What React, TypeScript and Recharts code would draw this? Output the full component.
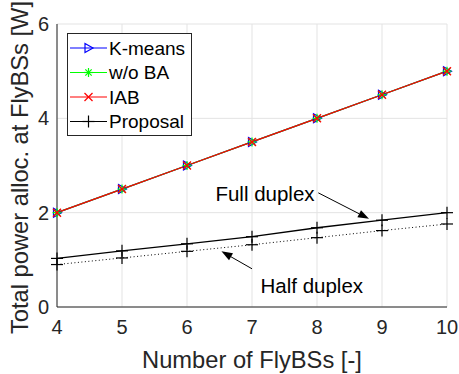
import {
  ComposedChart,
  Line,
  XAxis,
  YAxis,
  CartesianGrid,
  Legend,
  Label,
  ReferenceLine,
  ReferenceDot,
} from 'recharts';

const flyBSs = [4, 5, 6, 7, 8, 9, 10];
const kMeans = [2, 2.5, 3, 3.5, 4, 4.5, 5];
const withoutBA = [2, 2.5, 3, 3.5, 4, 4.5, 5];
const iab = [2, 2.5, 3, 3.5, 4, 4.5, 5];
const fullDuplex = [1.03, 1.19, 1.34, 1.49, 1.68, 1.84, 2.0];
const halfDuplex = [0.9, 1.04, 1.18, 1.32, 1.47, 1.62, 1.76];
const yTicks = [0, 2, 4, 6];

const legendNames = ['K-means', 'w/o BA', 'IAB', 'Proposal'];
const legendColors = ['#0000ff', '#00ff00', '#ff0000', '#000000'];
const legendMarkers = ['triangle', 'star', 'cross', 'plus'];

// annotation positions, in data units
const annotations = [
  { text: 'Full duplex', tx: 7.2, ty: 2.4, from: { x: 8.02, y: 2.42 }, to: { x: 8.8, y: 1.87 } },
  { text: 'Half duplex', tx: 7.92, ty: 0.44, from: { x: 7.0, y: 0.81 }, to: { x: 6.53, y: 1.18 } },
];

const data = flyBSs.map((n, i) => ({
  n,
  kMeans: kMeans[i],
  withoutBA: withoutBA[i],
  iab: iab[i],
  fullDuplex: fullDuplex[i],
  halfDuplex: halfDuplex[i],
}));

const FONT = '"Liberation Sans", Arial, Helvetica, sans-serif';
const TEXT = '#262626';

function Marker({ kind, cx, cy, color }: { kind: string; cx: number; cy: number; color: string }) {
  if (kind === 'triangle') {
    return (
      <polygon
        points={`${cx - 3.5},${cy - 4.5} ${cx - 3.5},${cy + 4.5} ${cx + 4.5},${cy}`}
        fill="none"
        stroke={color}
        strokeWidth={1.2}
      />
    );
  }
  if (kind === 'star') {
    const r = 4.5;
    const d = r * 0.707;
    return (
      <g stroke={color} strokeWidth={1.2}>
        <line x1={cx - r} y1={cy} x2={cx + r} y2={cy} />
        <line x1={cx} y1={cy - r} x2={cx} y2={cy + r} />
        <line x1={cx - d} y1={cy - d} x2={cx + d} y2={cy + d} />
        <line x1={cx - d} y1={cy + d} x2={cx + d} y2={cy - d} />
      </g>
    );
  }
  if (kind === 'cross') {
    const r = 4;
    return (
      <g stroke={color} strokeWidth={1.3}>
        <line x1={cx - r} y1={cy - r} x2={cx + r} y2={cy + r} />
        <line x1={cx - r} y1={cy + r} x2={cx + r} y2={cy - r} />
      </g>
    );
  }
  const r = 6;
  return (
    <g stroke={color} strokeWidth={1.2}>
      <line x1={cx - r} y1={cy} x2={cx + r} y2={cy} />
      <line x1={cx} y1={cy - r} x2={cx} y2={cy + r} />
    </g>
  );
}

const makeDot = (kind: string, color: string) => (props: any) => {
  const { cx, cy, index } = props;
  if (cx == null || cy == null) return <g key={index} />;
  return (
    <g key={`${kind}-${index}`}>
      <Marker kind={kind} cx={cx} cy={cy} color={color} />
    </g>
  );
};

const Arrow = (props: any) => {
  const { x1, y1, x2, y2 } = props;
  const ang = Math.atan2(y2 - y1, x2 - x1);
  const len = 11;
  const w = 4;
  const bx = x2 - len * Math.cos(ang);
  const by = y2 - len * Math.sin(ang);
  const px = -Math.sin(ang) * w;
  const py = Math.cos(ang) * w;
  return (
    <g>
      <line x1={x1} y1={y1} x2={bx} y2={by} stroke="#000" strokeWidth={1} />
      <polygon points={`${x2},${y2} ${bx + px},${by + py} ${bx - px},${by - py}`} fill="#000" />
    </g>
  );
};

const renderLegend = () => (
  <svg width={126} height={104} style={{ display: 'block' }}>
    <rect x={0.5} y={0.5} width={124} height={102} fill="#fff" stroke="#262626" strokeWidth={1} />
    {legendNames.map((name, i) => {
      const y = 15 + i * 24.5;
      return (
        <g key={name}>
          <line x1={3} y1={y} x2={40} y2={y} stroke={legendColors[i]} strokeWidth={1.2} />
          <Marker kind={legendMarkers[i]} cx={21.5} cy={y} color={legendColors[i]} />
          <text x={42} y={y} dy="0.35em" fontSize={19} fontFamily={FONT} fill="#000">
            {name}
          </text>
        </g>
      );
    })}
  </svg>
);

const YLabel = () => (
  <text
    x={28}
    y={334}
    transform="rotate(-90, 28, 334)"
    textAnchor="start"
    fontSize={23.7}
    fontFamily={FONT}
    fill={TEXT}
  >
    Total power alloc. at FlyBSs [W]
  </text>
);

export default function App() {
  return (
    <div style={{ position: 'absolute', left: 0, top: 0, background: '#fff' }}>
      <ComposedChart
        width={459}
        height={374}
        data={data}
        margin={{ top: 24, right: 12, bottom: 0, left: 0 }}
      >
        <CartesianGrid stroke="#e3e3e3" strokeWidth={1} />
        <XAxis
          dataKey="n"
          type="number"
          domain={[4, 10]}
          ticks={flyBSs}
          height={67}
          tickLine={false}
          tickSize={0}
          tickMargin={13}
          axisLine={{ stroke: TEXT, strokeWidth: 1 }}
          tick={{ fontSize: 20, fill: TEXT, fontFamily: FONT }}
        >
          <Label
            value="Number of FlyBSs [-]"
            position="insideBottom"
            offset={6}
            style={{ fontSize: 23.7, fill: TEXT, fontFamily: FONT }}
          />
        </XAxis>
        <YAxis
          type="number"
          domain={[0, 6]}
          ticks={yTicks}
          width={57}
          tickLine={false}
          tickSize={0}
          tickMargin={8}
          axisLine={{ stroke: TEXT, strokeWidth: 1 }}
          tick={{ fontSize: 20, fill: TEXT, fontFamily: FONT }}
          label={{ content: () => <YLabel /> }}
        />
        <Legend
          layout="vertical"
          align="center"
          verticalAlign="middle"
          content={renderLegend}
          wrapperStyle={{ position: 'absolute', left: 67, top: 33, right: 'auto', bottom: 'auto', width: 'auto', height: 'auto' }}
        />
        <Line
          dataKey="kMeans"
          stroke="#0000ff"
          strokeWidth={1.3}
          dot={makeDot('triangle', '#0000ff')}
          isAnimationActive={false}
        />
        <Line
          dataKey="withoutBA"
          stroke="#00ff00"
          strokeWidth={1.3}
          dot={makeDot('star', '#00ff00')}
          isAnimationActive={false}
        />
        <Line
          dataKey="iab"
          stroke="#ff0000"
          strokeWidth={1.3}
          dot={makeDot('cross', '#ff0000')}
          isAnimationActive={false}
        />
        <Line
          dataKey="fullDuplex"
          stroke="#000"
          strokeWidth={1.3}
          dot={makeDot('plus', '#000')}
          isAnimationActive={false}
        />
        <Line
          dataKey="halfDuplex"
          stroke="#000"
          strokeWidth={1}
          strokeDasharray="1 2.5"
          dot={makeDot('plus', '#000')}
          isAnimationActive={false}
        />
        {annotations.map((a) => (
          <ReferenceLine key={`arrow-${a.text}`} segment={[a.from, a.to]} shape={Arrow} ifOverflow="visible" />
        ))}
        {annotations.map((a) => (
          <ReferenceDot
            key={`text-${a.text}`}
            x={a.tx}
            y={a.ty}
            r={0}
            ifOverflow="visible"
            shape={(p: any) => (
              <text x={p.cx} y={p.cy} dy="0.35em" textAnchor="middle" fontSize={20.5} fontFamily={FONT} fill="#000">
                {a.text}
              </text>
            )}
          />
        ))}
      </ComposedChart>
    </div>
  );
}
